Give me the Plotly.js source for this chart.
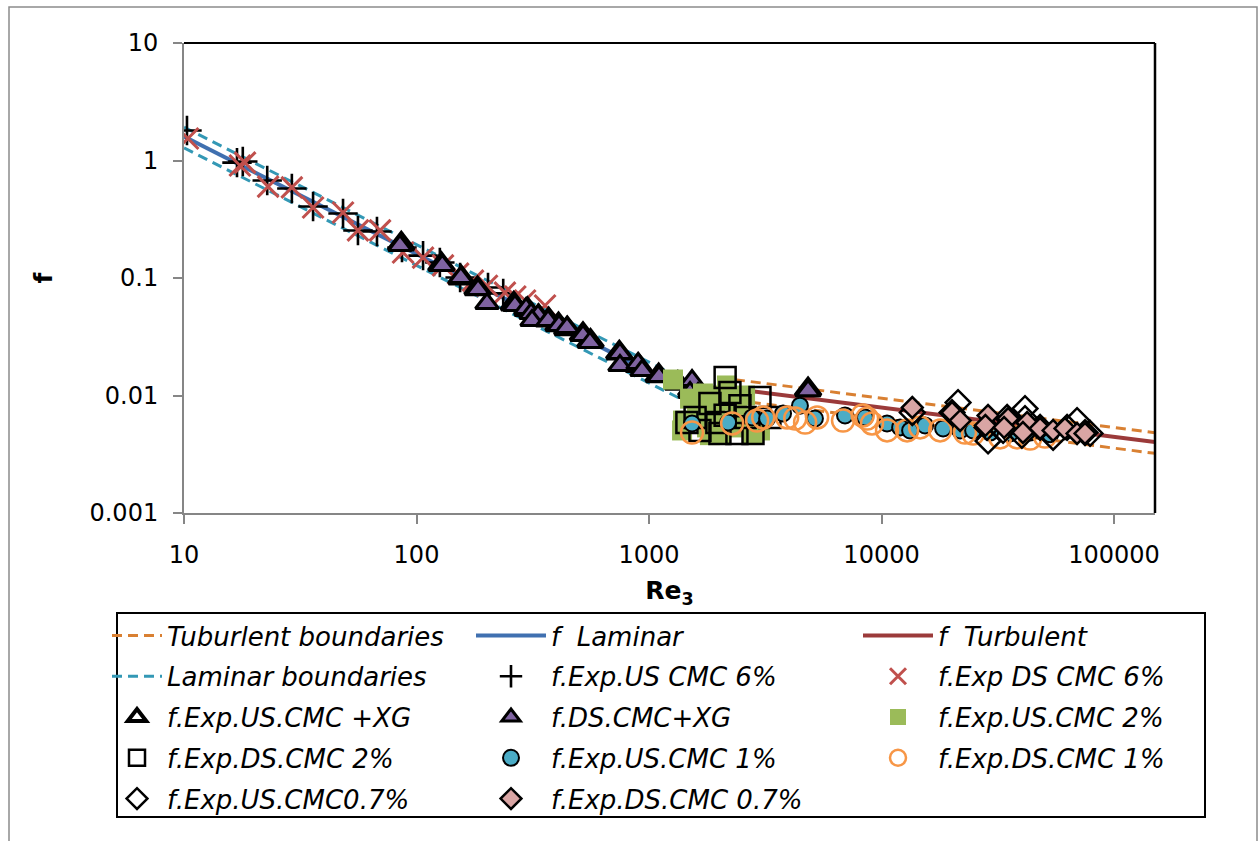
<!DOCTYPE html>
<html>
<head>
<meta charset="utf-8">
<script src="https://cdn.plot.ly/plotly-3.0.1.min.js"></script>
<style>html,body{margin:0;padding:0;background:#fff;}#chart{width:1260px;height:841px;}</style>
</head>
<body>
<div id="chart"></div>
<script>
// ---- reference lines (end points) ----
const reTurbBound = [2000, 150000, null, 2000, 150000];
const fTurbBound = [0.0142, 0.00483, null, 0.0095, 0.00322];
const reLaminar = [10, 2000];
const fLaminar = [1.6, 0.008];
const reTurbulent = [2000, 150000];
const fTurbulent = [0.0118, 0.00402];
const reLamBound = [10, 2000, null, 10, 2000];
const fLamBound = [1.92, 0.0096, null, 1.28, 0.0064];

// ---- experimental series ----
const reUS6 = [10.3, 16.9, 17.9, 22.8, 29.1, 35.9, 48.3, 56.0, 67.6, 86.6, 106.7, 126, 154, 203, 236];
const fUS6 = [1.80, 0.96, 0.98, 0.676, 0.578, 0.406, 0.354, 0.254, 0.249, 0.182, 0.155, 0.1355, 0.101, 0.083, 0.074];

const reDS6 = [10.4, 17.4, 18.3, 23.0, 29.1, 35.9, 48.3, 56, 69.7, 87.5, 106.7, 130, 151, 175, 201, 240, 266, 293, 357];
const fDS6 = [1.54, 0.906, 0.96, 0.60, 0.59, 0.398, 0.361, 0.254, 0.254, 0.165, 0.149, 0.128, 0.109, 0.095, 0.086, 0.075, 0.0696, 0.0644, 0.0583];

const reUSXG = [86, 128, 156, 183, 262, 300, 335, 370, 408, 445, 520, 560, 745, 900, 1100, 1330, 1520, 4830];
const fUSXG = [0.195, 0.13, 0.10, 0.081, 0.06, 0.054, 0.047, 0.044, 0.040, 0.037, 0.033, 0.029, 0.023, 0.018, 0.0147, 0.0127, 0.0112, 0.0112];

const reDSXG = [84.9, 129, 155, 184, 201, 265, 296, 311, 333, 314, 368, 410, 444, 520, 557, 750, 750, 897, 933, 1104, 1333, 1531, 1501, 1625, 4830];
const fDSXG = [0.189, 0.128, 0.101, 0.0798, 0.0607, 0.0583, 0.055, 0.0499, 0.048, 0.0435, 0.0435, 0.0394, 0.0379, 0.0324, 0.0283, 0.0228, 0.018, 0.0187, 0.0163, 0.0145, 0.0129, 0.0134, 0.0106, 0.0104, 0.0110];

const reUS2 = [1268, 1706, 1706, 1400, 1387, 1776, 2163, 2228, 2388, 2460, 2018, 2800, 2638, 1607, 1828, 3000, 1884, 1501, 1920, 2588];
const fUS2 = [0.01368, 0.0104, 0.00855, 0.00612, 0.00504, 0.00535, 0.01217, 0.00906, 0.00703, 0.00535, 0.0047, 0.00475, 0.0065, 0.00745, 0.0046, 0.00504, 0.0100, 0.0094, 0.00676, 0.0100];

const reDS2 = [2125, 2228, 1828, 1578, 1455, 1656, 2018, 2388, 2800, 3000, 3311, 1958, 2589, 2460, 2125];
const fDS2 = [0.01423, 0.0106, 0.00855, 0.0065, 0.00589, 0.00504, 0.00475, 0.00475, 0.00475, 0.0096, 0.0065, 0.00589, 0.0065, 0.0082, 0.0068];

const reUS1 = [1531, 2188, 2774, 3220, 3770, 4457, 5171, 6966, 8488, 10560, 12020, 13270, 15390, 18400, 21780, 24770, 29310, 35720, 43550, 53090];
const fUS1 = [0.00578, 0.00589, 0.0065, 0.00637, 0.00703, 0.0082, 0.00637, 0.00676, 0.0065, 0.00578, 0.00535, 0.00504, 0.00556, 0.00524, 0.00504, 0.00504, 0.00484, 0.00475, 0.00484, 0.00467];

const reDS1 = [1531, 2277, 2916, 3098, 3928, 4255, 4690, 5283, 6829, 8300, 8665, 9100, 10560, 12880, 14660, 17870, 22860, 24770, 32370, 38280, 43550, 50470];
const fDS1 = [0.00484, 0.00578, 0.00612, 0.0065, 0.0065, 0.00637, 0.00589, 0.0065, 0.00612, 0.00676, 0.00637, 0.00578, 0.00504, 0.00504, 0.00535, 0.00504, 0.00484, 0.00475, 0.0044, 0.0044, 0.0043, 0.00447];

const reUS07 = [13560, 21330, 20100, 28710, 28420, 34690, 33330, 41400, 41400, 40150, 48080, 54690, 62810, 69330, 75010, 78860];
const fUS07 = [0.00716, 0.00871, 0.00716, 0.0041, 0.00535, 0.0065, 0.00504, 0.00775, 0.00637, 0.00457, 0.00535, 0.0044, 0.00535, 0.00612, 0.00484, 0.00475];

const reDS07 = [13560, 20100, 21780, 28710, 27960, 35030, 33660, 42270, 40560, 48080, 54690, 61500, 69330, 75010];
const fDS07 = [0.0079, 0.00716, 0.00612, 0.00676, 0.00556, 0.00637, 0.00535, 0.00589, 0.00484, 0.00524, 0.00504, 0.00524, 0.00475, 0.00475];

// ---- axis ticks ----
const xTickVals = [10, 100, 1000, 10000, 100000];
const xTickText = ['10', '100', '1000', '10000', '100000'];
const yTickVals = [0.001, 0.01, 0.1, 1, 10];
const yTickText = ['0.001', '0.01', '0.1', '1', '10'];

const FONT = 'DejaVu Sans, Verdana, sans-serif';

function lineTrace(name, x, y, color, width, dash, legend, grp) {
  return {type: 'scatter', mode: 'lines', name: name, x: x, y: y, connectgaps: false,
    line: {color: color, width: width, dash: dash}, legend: legend, legendgroup: grp, hoverinfo: 'skip'};
}
function markerTrace(name, x, y, marker, legend, grp) {
  return {type: 'scatter', mode: 'markers', name: name, x: x, y: y, marker: marker,
    legend: legend, legendgroup: grp, hoverinfo: 'skip'};
}

const traces = [
  lineTrace('Tuburlent boundaries', reTurbBound, fTurbBound, '#D98032', 3, '10px,6px', 'legend', 'g1'),
  lineTrace('f\u00a0 Laminar', reLaminar, fLaminar, '#4070B0', 4, 'solid', 'legend2', 'g2'),
  lineTrace('f\u00a0 Turbulent', reTurbulent, fTurbulent, '#9B3A3A', 4, 'solid', 'legend3', 'g3'),
  lineTrace('Laminar boundaries', reLamBound, fLamBound, '#3398B5', 3, '10px,6px', 'legend', 'g4'),
  markerTrace('f.Exp.US CMC 6%', reUS6, fUS6, {symbol: 'cross-thin', size: 21, color: '#000', line: {color: '#000', width: 2.6}}, 'legend2', 'g5'),
  markerTrace('f.Exp DS CMC 6%', reDS6, fDS6, {symbol: 'x-thin', size: 21, color: '#C0504D', line: {color: '#C0504D', width: 3}}, 'legend3', 'g6'),
  markerTrace('f.Exp.US.CMC +XG', reUSXG, fUSXG, {symbol: 'triangle-up-open', size: 22, color: '#000', line: {color: '#000', width: 4}}, 'legend', 'g7'),
  markerTrace('f.DS.CMC+XG', reDSXG, fDSXG, {symbol: 'triangle-up', size: 20, color: '#7F63A1', line: {color: '#000', width: 3}}, 'legend2', 'g8'),
  markerTrace('f.Exp.US.CMC 2%', reUS2, fUS2, {symbol: 'square', size: 20, color: '#9BBB59', line: {width: 0}}, 'legend3', 'g9'),
  markerTrace('f.Exp.DS.CMC 2%', reDS2, fDS2, {symbol: 'square-open', size: 21, color: '#000', line: {color: '#000', width: 2.5}}, 'legend', 'g10'),
  markerTrace('f.Exp.US.CMC 1%', reUS1, fUS1, {symbol: 'circle', size: 16, color: '#4BACC6', line: {color: '#000', width: 2}}, 'legend2', 'g11'),
  markerTrace('f.Exp.DS.CMC 1%', reDS1, fDS1, {symbol: 'circle-open', size: 22, color: '#F79646', line: {color: '#F79646', width: 2.5}}, 'legend3', 'g12'),
  markerTrace('f.Exp.US.CMC0.7%', reUS07, fUS07, {symbol: 'diamond-open', size: 19, color: '#000', line: {color: '#000', width: 2.5}}, 'legend', 'g13'),
  markerTrace('f.Exp.DS.CMC 0.7%', reDS07, fDS07, {symbol: 'diamond', size: 16, color: '#D9A5A4', line: {color: '#000', width: 2.5}}, 'legend2', 'g14')
];

const legendBase = {
  orientation: 'v', xanchor: 'left', yanchor: 'top', bgcolor: 'rgba(0,0,0,0)', borderwidth: 0,
  font: {family: FONT, size: 26, style: 'italic', color: '#000'},
  traceorder: 'grouped', tracegroupgap: 4, itemclick: false, itemdoubleclick: false
};

const axisBase = {
  type: 'log', showgrid: false, zeroline: false, showline: true, linecolor: '#868686', linewidth: 2,
  ticks: 'outside', ticklen: 9, tickwidth: 2, tickcolor: '#868686', ticklabelstandoff: 10,
  tickfont: {family: FONT, size: 24, color: '#000'}, automargin: false, fixedrange: true
};

const layout = {
  width: 1260, height: 841,
  margin: {l: 184, r: 105, t: 43, b: 328, autoexpand: false},
  paper_bgcolor: '#fff', plot_bgcolor: '#fff',
  showlegend: true,
  xaxis: Object.assign({}, axisBase, {range: [1, Math.log10(150000)], tickmode: 'array', tickvals: xTickVals, ticktext: xTickText,
    title: {text: 'Re<sub>3</sub>', font: {family: FONT, size: 25, weight: 'bold', color: '#000'}, standoff: 14}}),
  yaxis: Object.assign({}, axisBase, {range: [-3, 1], tickmode: 'array', tickvals: yTickVals, ticktext: yTickText,
    title: {text: 'f', font: {family: FONT, size: 25, weight: 'bold', color: '#000'}, standoff: 30}}),
  legend: Object.assign({}, legendBase, {x: (107 - 184) / 971, y: (513 - 612) / 470, itemwidth: 50}),
  legend2: Object.assign({}, legendBase, {x: (471 - 184) / 971, y: (513 - 612) / 470, itemwidth: 70}),
  legend3: Object.assign({}, legendBase, {x: (858 - 184) / 971, y: (513 - 612) / 470, itemwidth: 70}),
  shapes: [
    // outer chart frame
    {type: 'rect', xref: 'paper', yref: 'paper', x0: (9 - 184) / 971, x1: (1257 - 184) / 971, y0: -0.75, y1: (513 - 7) / 470,
      line: {color: '#8C8C8C', width: 1.5}, fillcolor: 'rgba(0,0,0,0)', layer: 'below'},
    // plot area top & right border
    {type: 'line', xref: 'paper', yref: 'paper', x0: 0, x1: 1, y0: 1, y1: 1, line: {color: '#000', width: 2}},
    {type: 'line', xref: 'paper', yref: 'paper', x0: 1, x1: 1, y0: 0, y1: 1, line: {color: '#000', width: 2.5}},
    // legend box
    {type: 'rect', xref: 'paper', yref: 'paper', x0: (117 - 184) / 971, x1: (1205 - 184) / 971, y0: (513 - 817) / 470, y1: (513 - 613) / 470,
      line: {color: '#000', width: 2}, fillcolor: 'rgba(0,0,0,0)'}
  ]
};

Plotly.newPlot('chart', traces, layout, {displayModeBar: false, staticPlot: true});
</script>
</body>
</html>
